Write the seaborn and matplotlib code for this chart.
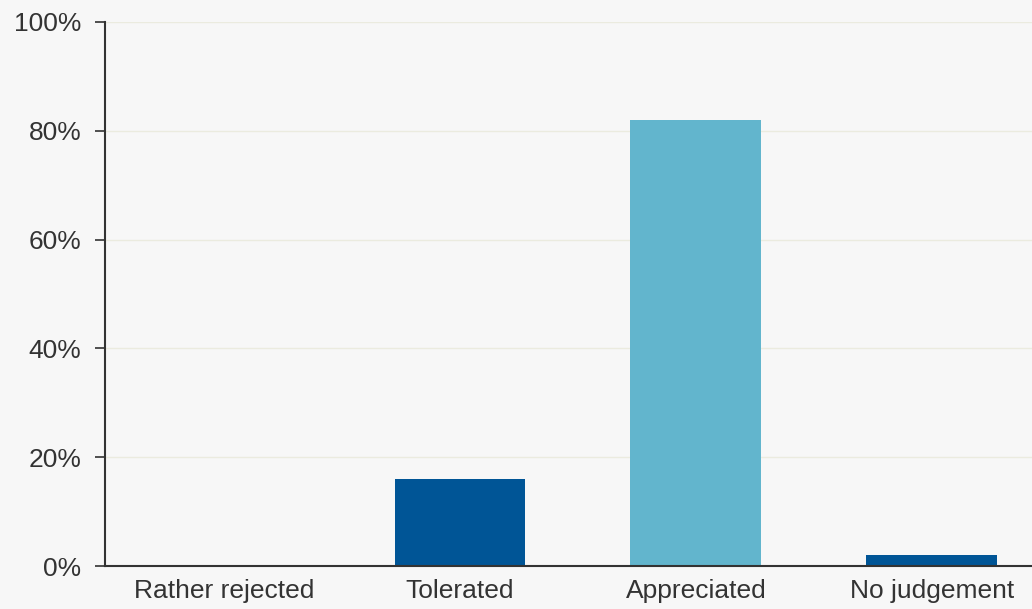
import matplotlib
matplotlib.use("Agg")
import matplotlib.pyplot as plt
import seaborn as sns
from matplotlib.ticker import PercentFormatter

# data
categories = ["Rather rejected", "Tolerated", "Appreciated", "No judgement"]
shares = [0.0, 16.0, 82.0, 2.0]
bar_colors = ["#005596", "#005596", "#62b5cd", "#005596"]
y_ticks = [0, 20, 40, 60, 80, 100]

sns.set_theme(style="white")
plt.rcParams["font.family"] = ["Liberation Sans", "DejaVu Sans"]

bg = "#f7f7f7"
fig = plt.figure(figsize=(10.32, 6.09), dpi=100, facecolor=bg)
ax = fig.add_axes([0.1017, 0.0706, 0.8983, 0.8933])
ax.set_facecolor(bg)

sns.barplot(x=categories, y=shares, hue=categories, palette=bar_colors,
            legend=False, width=0.555, saturation=1, linewidth=0,
            ax=ax, zorder=3)

ax.set_ylim(0, 100)
ax.set_xlim(-0.505, 3.425)
ax.set_yticks(y_ticks)
ax.yaxis.set_major_formatter(PercentFormatter(decimals=0))
ax.grid(axis="y", color="#ebebdf", linewidth=1, zorder=0)
ax.set_axisbelow(True)

for side in ["top", "right"]:
    ax.spines[side].set_visible(False)
for side in ["left", "bottom"]:
    ax.spines[side].set_color("#333333")
    ax.spines[side].set_linewidth(1.5)
ax.spines["bottom"].set_zorder(4)

ax.tick_params(axis="y", length=7, width=1.2, color="#333333", labelsize=19,
               labelcolor="#333333", pad=10, left=True)
ax.tick_params(axis="x", length=0, labelsize=19, labelcolor="#333333", pad=9)
ax.set_xlabel("")
ax.set_ylabel("")

fig.savefig("out.png", dpi=100, facecolor=bg)
